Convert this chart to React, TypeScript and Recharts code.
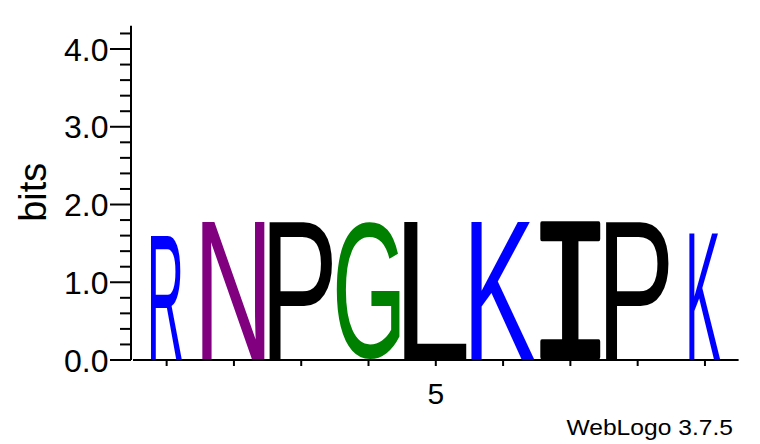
import React from 'react';
import { BarChart, Bar, XAxis, YAxis } from 'recharts';

// sequence logo columns
const positions = [1, 2, 3, 4, 5, 6, 7, 8, 9];
const residues = ['R', 'N', 'P', 'G', 'L', 'K', 'I', 'P', 'K'];
const bits = [1.62, 1.78, 1.78, 1.78, 1.78, 1.78, 1.78, 1.78, 1.62];
// fraction of the stack width used (columns with gaps are narrower)
const coverage = [0.49, 1, 1, 1, 1, 1, 1, 1, 0.49];

const yTicks = [0, 0.2, 0.4, 0.6, 0.8, 1, 1.2, 1.4, 1.6, 1.8, 2, 2.2, 2.4, 2.6, 2.8, 3, 3.2, 3.4, 3.6, 3.8, 4, 4.2];
const yLabelled = [0, 1, 2, 3, 4];
const xLabelled = [5];

const SANS = '"Liberation Sans", Arial, Helvetica, sans-serif';

const colors: Record<string, string> = {
  R: '#0000ff',
  K: '#0000ff',
  N: '#800080',
  G: '#008000',
  P: '#000000',
  L: '#000000',
  I: '#000000',
};

// thicken: width of a same-colour outline added to a thin glyph (rounds its corners too)
const glyphFonts: Record<string, { family: string; weight: string; thicken: number }> = {
  I: { family: '"Liberation Mono"', weight: 'normal', thicken: 4 },
};
const defaultGlyph = { family: '"Liberation Sans"', weight: 'normal', thicken: 0 };

const rows = positions.map((pos, i) => ({
  pos,
  residue: residues[i],
  bits: bits[i],
  coverage: coverage[i],
}));

const inkCache: Record<string, { l: number; r: number; a: number; d: number }> = {};
function inkBox(ch: string, font: string) {
  const key = font + '|' + ch;
  if (!inkCache[key]) {
    const ctx = document.createElement('canvas').getContext('2d')!;
    ctx.font = font;
    const m = ctx.measureText(ch);
    inkCache[key] = {
      l: m.actualBoundingBoxLeft,
      r: m.actualBoundingBoxRight,
      a: m.actualBoundingBoxAscent,
      d: m.actualBoundingBoxDescent,
    };
  }
  return inkCache[key];
}

function Letter(props: any) {
  const { x, y, width, height, payload } = props;
  if (!height || height <= 0) return null;
  const ch = payload.residue;
  const g = glyphFonts[ch] ?? defaultGlyph;
  const m = inkBox(ch, `${g.weight} 100px ${g.family}`);
  const s = g.thicken;
  const w = width * 0.944 * payload.coverage;
  const h = height - 1;
  const left = x + width / 2 - w / 2;
  const sx = (w - s) / (m.l + m.r);
  const sy = (h - s) / (m.a + m.d);
  return (
    <text
      x={0}
      y={0}
      fontSize={100}
      fontFamily={g.family}
      fontWeight={g.weight}
      fill={colors[ch]}
      stroke={s > 0 ? colors[ch] : 'none'}
      strokeWidth={s}
      strokeLinejoin="round"
      vectorEffect="non-scaling-stroke"
      transform={`translate(${left + s / 2},${y + s / 2}) scale(${sx},${sy}) translate(${m.l},${m.a})`}
    >
      {ch}
    </text>
  );
}

function XTick({ x, y, payload }: any) {
  return (
    <g>
      <line x1={x} x2={x} y1={y} y2={y + 6} stroke="#000" strokeWidth={2} />
      {xLabelled.includes(payload.value) && (
        <text x={x} y={y + 43.5} textAnchor="middle" fontSize={30} fontFamily={SANS} fill="#000">
          {payload.value}
        </text>
      )}
    </g>
  );
}

function YTick({ x, y, payload }: any) {
  const major = yLabelled.includes(payload.value);
  const ax = x - 2;
  return (
    <g>
      <line x1={ax - (major ? 21 : 11)} x2={ax} y1={y} y2={y} stroke="#000" strokeWidth={2} />
      {major && (
        <text x={ax - 22.5} y={y} dy="0.36em" textAnchor="end" fontSize={32} fontFamily={SANS} fill="#000">
          {payload.value.toFixed(1)}
        </text>
      )}
    </g>
  );
}

export default function App() {
  return (
    <div style={{ position: 'absolute', left: 0, top: 0, width: 760, height: 444, background: '#fff' }}>
      <BarChart
        width={760}
        height={444}
        data={rows}
        margin={{ top: 25.7, right: 21.4, left: 0, bottom: 0 }}
        barCategoryGap={0}
        barGap={0}
      >
        <XAxis
          dataKey="pos"
          height={84}
          interval={0}
          axisLine={{ stroke: '#000', strokeWidth: 2 }}
          tickLine={false}
          tickSize={0}
          tickMargin={0}
          tick={<XTick />}
        />
        <YAxis
          type="number"
          domain={[0, 4.3]}
          ticks={yTicks}
          interval={0}
          width={133}
          allowDataOverflow
          axisLine={{ stroke: '#000', strokeWidth: 2, transform: 'translate(-2,0)' }}
          tickLine={false}
          tickSize={0}
          tickMargin={0}
          tick={<YTick />}
        />
        <Bar dataKey="bits" isAnimationActive={false} shape={<Letter />} />
      </BarChart>
      <svg
        width={760}
        height={444}
        style={{ position: 'absolute', left: 0, top: 0, pointerEvents: 'none' }}
      >
        <text
          transform="translate(46,192.3) rotate(-90)"
          textAnchor="middle"
          fontSize={38}
          fontFamily={SANS}
          fill="#000"
        >
          bits
        </text>
        <text
          transform="translate(733,435) scale(1.12,1)"
          textAnchor="end"
          fontSize={22}
          fontFamily={SANS}
          fill="#000"
        >
          WebLogo 3.7.5
        </text>
      </svg>
    </div>
  );
}
